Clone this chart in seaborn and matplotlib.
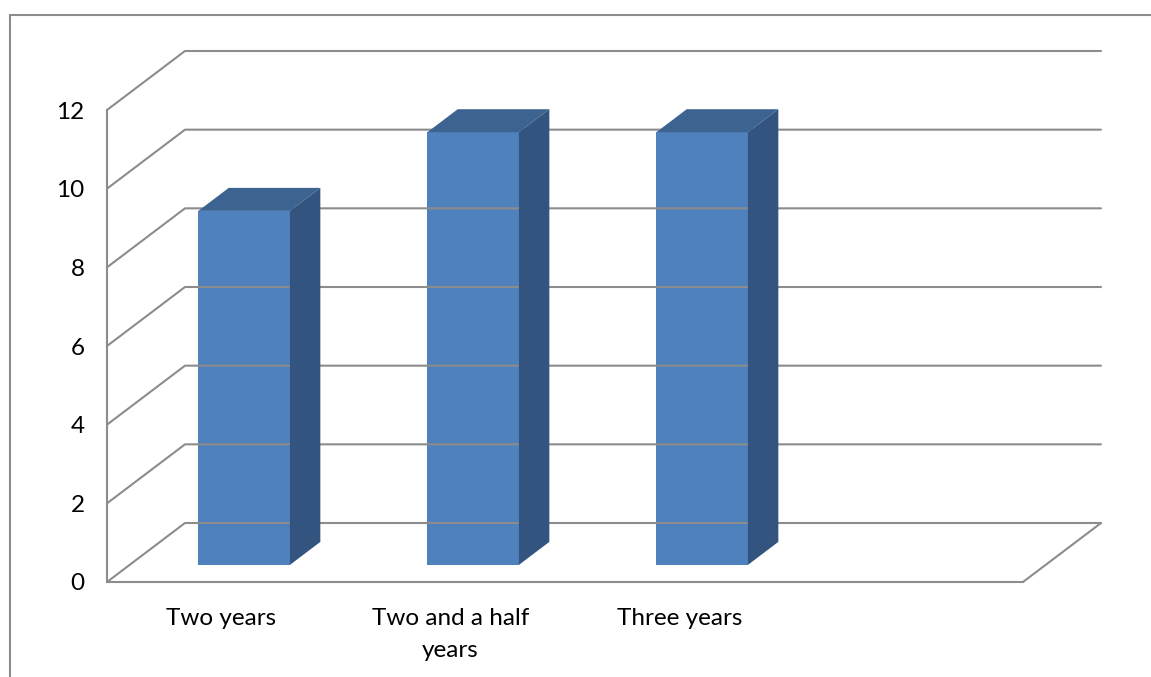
import numpy as np
import pandas as pd
import matplotlib
matplotlib.use("Agg")
import matplotlib.pyplot as plt
from matplotlib.transforms import Affine2D, IdentityTransform
from matplotlib.lines import Line2D
from matplotlib.patches import Polygon
import seaborn as sns

# ---- data ----
categories = ["Two years", "Two and a half\nyears", "Three years"]
values = [9, 11, 11]
n_slots = 4
y_ticks = [0, 2, 4, 6, 8, 10, 12]

# ---- style ----
sns.set_style("white")
plt.rcParams["font.family"] = ["Lato", "DejaVu Sans"]

W, H = 1151, 677
DPI = 100
fig = plt.figure(figsize=(W / DPI, H / DPI), dpi=DPI)
ax = fig.add_axes([107 / W, (H - 582) / H, 916 / W, 472 / H])

GRID = "#8C8C8C"
FRONT = "#4F81BD"
TOP = "#3D6391"
SIDE = "#33547F"
DEPTH = np.array([78.0, 59.0])   # pixel offset of back wall
T_FRONT, T_BACK = 0.29, 0.68

df = pd.DataFrame({"cat": categories, "val": values})
sns.barplot(data=df, x="cat", y="val", width=0.4, color=FRONT,
            saturation=1, ax=ax, zorder=3, linewidth=0)

ax.set_xlim(-0.5, n_slots - 0.5)
ax.set_ylim(0, 12)
ax.set_xlabel("")
ax.set_ylabel("")

# axes / ticks
for s in ["top", "right"]:
    ax.spines[s].set_visible(False)
for s in ["left", "bottom"]:
    ax.spines[s].set_color(GRID)
    ax.spines[s].set_linewidth(1.5)
    ax.spines[s].set_zorder(4)
ax.set_yticks(y_ticks)
ax.tick_params(axis="y", length=6, width=1.5, color=GRID, pad=10,
               labelsize=17.5, labelcolor="black")
ax.set_xticks(range(len(categories)))
ax.set_xticklabels(categories)
ax.tick_params(axis="x", which="major", length=0, pad=19,
               labelsize=17.5, labelcolor="black")
ax.set_xticks(np.arange(-0.5, n_slots, 1.0), minor=True)
ax.tick_params(axis="x", which="minor", length=6, width=1.5, color=GRID)
for lab in ax.get_xticklabels():
    lab.set_linespacing(1.62)

fig.canvas.draw()
ident = IdentityTransform()


def disp(x, y, t):
    p = ax.transData.transform((x, y))
    return p + DEPTH * t


# back wall gridlines + left wall diagonals
x0, x1 = -0.5, n_slots - 0.5
for v in y_ticks:
    a = disp(x0, v, 0)
    b = disp(x0, v, 1)
    c = disp(x1, v, 1)
    fig.add_artist(Line2D([a[0], b[0], c[0]], [a[1], b[1], c[1]],
                          transform=ident, color=GRID, lw=1.5, zorder=1))
# floor right edge
a = disp(x1, 0, 0)
b = disp(x1, 0, 1)
fig.add_artist(Line2D([a[0], b[0]], [a[1], b[1]], transform=ident,
                      color=GRID, lw=1.5, zorder=1))

# bars: shift front faces into depth and add top / side faces
for patch in ax.patches:
    bx0 = patch.get_x()
    bx1 = bx0 + patch.get_width()
    h = patch.get_height()
    patch.set_transform(ax.transData + Affine2D().translate(*(DEPTH * T_FRONT)))
    top = [disp(bx0, h, T_FRONT), disp(bx1, h, T_FRONT),
           disp(bx1, h, T_BACK), disp(bx0, h, T_BACK)]
    side = [disp(bx1, 0, T_FRONT), disp(bx1, h, T_FRONT),
            disp(bx1, h, T_BACK), disp(bx1, 0, T_BACK)]
    fig.add_artist(Polygon(top, closed=True, transform=ident,
                           facecolor=TOP, edgecolor="none", zorder=5))
    fig.add_artist(Polygon(side, closed=True, transform=ident,
                           facecolor=SIDE, edgecolor="none", zorder=5))

# chart-area border (top and left visible)
fig.add_artist(Line2D([9.5, W], [H - 15, H - 15], transform=ident,
                      color=GRID, lw=1.5))
fig.add_artist(Line2D([9.5, 9.5], [0, H - 15], transform=ident,
                      color=GRID, lw=1.5))

fig.savefig("out.png", dpi=DPI)
